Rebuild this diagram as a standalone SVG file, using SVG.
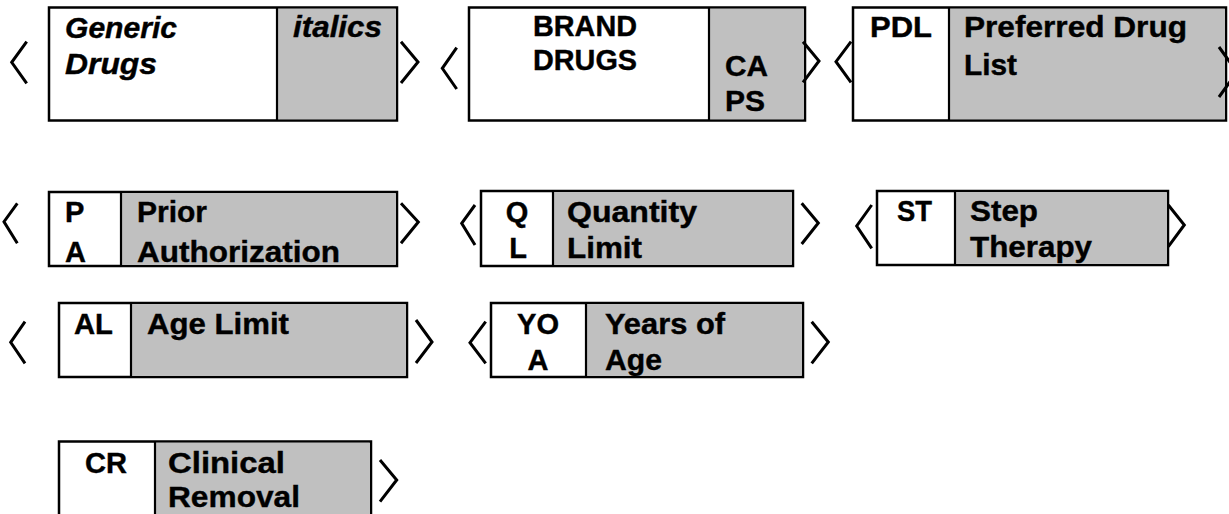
<svg xmlns="http://www.w3.org/2000/svg" width="1229" height="514" viewBox="0 0 1229 514">
<style>
.box{fill:#ffffff;stroke:#000000;stroke-width:2.5}
.gray{fill:#c0c0c0;stroke:none}
.div{stroke:#000000;stroke-width:2.2}
.br{fill:none;stroke:#000000;stroke-width:3;stroke-linejoin:miter}
text{font-family:"Liberation Sans",Arial,sans-serif;font-weight:bold;font-size:29px;fill:#000000;stroke:#000000;stroke-width:0.4}
.it{font-style:italic}
</style>
<rect width="1229" height="514" fill="#ffffff"/>

<g id="node-generic">
<rect class="box" x="49" y="7.5" width="348" height="113"/>
<rect class="gray" x="277" y="8.75" width="118.75" height="110.5"/>
<line class="div" x1="277" y1="7.5" x2="277" y2="120.5"/>
<text class="it" x="65" y="38" textLength="112" lengthAdjust="spacingAndGlyphs">Generic</text>
<text class="it" x="65" y="74" textLength="92" lengthAdjust="spacingAndGlyphs">Drugs</text>
<text class="it" x="293" y="37" textLength="89" lengthAdjust="spacingAndGlyphs">italics</text>
</g>

<g id="node-brand">
<rect class="box" x="469" y="7.5" width="336" height="113"/>
<rect class="gray" x="709" y="8.75" width="94.75" height="110.5"/>
<line class="div" x1="709" y1="7.5" x2="709" y2="120.5"/>
<text x="533" y="36" textLength="104" lengthAdjust="spacingAndGlyphs">BRAND</text>
<text x="533" y="70" textLength="104" lengthAdjust="spacingAndGlyphs">DRUGS</text>
<text x="725" y="76" textLength="43" lengthAdjust="spacingAndGlyphs">CA</text>
<text x="725" y="110.5" textLength="40" lengthAdjust="spacingAndGlyphs">PS</text>
</g>

<g id="node-pdl">
<rect class="box" x="853" y="7.5" width="373" height="113"/>
<rect class="gray" x="949" y="8.75" width="275.75" height="110.5"/>
<line class="div" x1="949" y1="7.5" x2="949" y2="120.5"/>
<text x="870" y="37" textLength="62" lengthAdjust="spacingAndGlyphs">PDL</text>
<text x="964" y="37" textLength="223" lengthAdjust="spacingAndGlyphs">Preferred Drug</text>
<text x="964" y="75" textLength="53" lengthAdjust="spacingAndGlyphs">List</text>
</g>

<g id="node-pa">
<rect class="box" x="49" y="192" width="348" height="74"/>
<rect class="gray" x="121" y="193.25" width="274.75" height="71.5"/>
<line class="div" x1="121" y1="192" x2="121" y2="266"/>
<text x="65" y="222">P</text>
<text x="65" y="261.5">A</text>
<text x="137" y="222" textLength="70" lengthAdjust="spacingAndGlyphs">Prior</text>
<text x="137" y="261.5" textLength="203" lengthAdjust="spacingAndGlyphs">Authorization</text>
</g>

<g id="node-ql">
<rect class="box" x="481" y="191" width="312" height="75"/>
<rect class="gray" x="553" y="192.25" width="238.75" height="72.5"/>
<line class="div" x1="553" y1="191" x2="553" y2="266"/>
<text x="517" y="221.5" text-anchor="middle">Q</text>
<text x="518" y="257.5" text-anchor="middle">L</text>
<text x="567" y="221.5" textLength="130" lengthAdjust="spacingAndGlyphs">Quantity</text>
<text x="567" y="257.5" textLength="75" lengthAdjust="spacingAndGlyphs">Limit</text>
</g>

<g id="node-st">
<rect class="box" x="877" y="191" width="291" height="74"/>
<rect class="gray" x="955" y="192.25" width="211.75" height="71.5"/>
<line class="div" x1="955" y1="191" x2="955" y2="265"/>
<text x="897" y="220.5" textLength="35" lengthAdjust="spacingAndGlyphs">ST</text>
<text x="970" y="220.5" textLength="68" lengthAdjust="spacingAndGlyphs">Step</text>
<text x="970" y="256.5" textLength="122" lengthAdjust="spacingAndGlyphs">Therapy</text>
</g>

<g id="node-al">
<rect class="box" x="59" y="303" width="348" height="74"/>
<rect class="gray" x="131" y="304.25" width="274.75" height="71.5"/>
<line class="div" x1="131" y1="303" x2="131" y2="377"/>
<text x="74" y="333.5" textLength="39" lengthAdjust="spacingAndGlyphs">AL</text>
<text x="147" y="333.5" textLength="142" lengthAdjust="spacingAndGlyphs">Age Limit</text>
</g>

<g id="node-yoa">
<rect class="box" x="491" y="303" width="312" height="74"/>
<rect class="gray" x="586" y="304.25" width="215.75" height="71.5"/>
<line class="div" x1="586" y1="303" x2="586" y2="377"/>
<text x="517" y="333.5" textLength="42" lengthAdjust="spacingAndGlyphs">YO</text>
<text x="538" y="370" text-anchor="middle">A</text>
<text x="605" y="333.5" textLength="120" lengthAdjust="spacingAndGlyphs">Years of</text>
<text x="605" y="370" textLength="57" lengthAdjust="spacingAndGlyphs">Age</text>
</g>

<g id="node-cr">
<rect class="box" x="59" y="441.5" width="312" height="90"/>
<rect class="gray" x="155" y="442.75" width="214.75" height="87"/>
<line class="div" x1="155" y1="441.5" x2="155" y2="531"/>
<text x="85" y="472.5" textLength="42" lengthAdjust="spacingAndGlyphs">CR</text>
<text x="168" y="472.5" textLength="117" lengthAdjust="spacingAndGlyphs">Clinical</text>
<text x="168" y="506.5" textLength="132" lengthAdjust="spacingAndGlyphs">Removal</text>
</g>

<g id="brackets">
<polyline class="br" points="26.7,41.7 11.7,62.3 26.7,83.3"/>
<polyline class="br" points="401,41.7 418,62 401,83"/>
<polyline class="br" points="456.7,47.7 442.3,68.3 456.7,89"/>
<polyline class="br" points="803,41.7 819,61 803,82.3"/>
<polyline class="br" points="851,41.7 836,61.7 851,82.3"/>
<polyline class="br" points="1219,47 1237,72 1219,97"/>
<polyline class="br" points="17.3,203.3 4,221.7 17.3,243.3"/>
<polyline class="br" points="401,203.3 418.3,222 401,243.3"/>
<polyline class="br" points="475,205 461.7,223.3 475,245"/>
<polyline class="br" points="801.7,203.3 818.3,223 801.7,244"/>
<polyline class="br" points="871.7,205 856.7,226 871.7,248.3"/>
<polyline class="br" points="1168.3,205 1184.3,225 1168.3,246.7"/>
<polyline class="br" points="25,321.7 10.7,342.3 25,363.3"/>
<polyline class="br" points="416,320 432,342 416,363"/>
<polyline class="br" points="485.7,321.7 470,342.7 485.7,363.3"/>
<polyline class="br" points="811.7,321.7 828.3,342 811.7,363.3"/>
<polyline class="br" points="380,460 396.7,480 380,501.7"/>
</g>
</svg>
